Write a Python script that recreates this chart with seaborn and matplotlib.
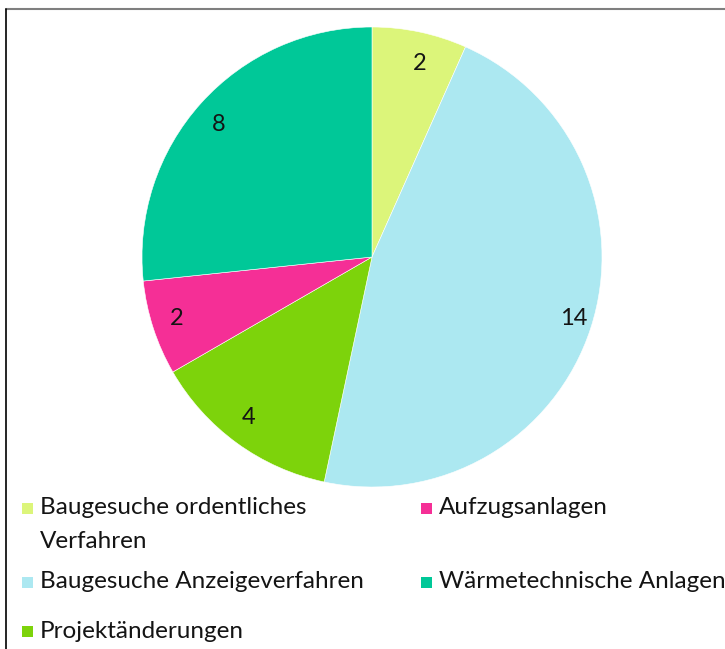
import matplotlib
matplotlib.use("Agg")
import matplotlib.pyplot as plt
from matplotlib.patches import Rectangle
from matplotlib.lines import Line2D
import seaborn as sns

# data, clockwise from 12 o'clock
categories = ["Baugesuche ordentliches\nVerfahren", "Baugesuche Anzeigeverfahren",
              "Projektänderungen", "Aufzugsanlagen", "Wärmetechnische Anlagen"]
counts = [2, 14, 4, 2, 8]
colors = ["#dcf57a", "#ace8f1", "#7dd30b", "#f52f96", "#00c898"]

sns.set_style("white")
plt.rcParams["font.family"] = ["Lato", "DejaVu Sans"]

W, H = 725, 649
fig = plt.figure(figsize=(W / 100, H / 100), dpi=100)

# pie axes: centre (372, 257) px, radius 230 px
cx, cy, r = 372, 257, 230
ax = fig.add_axes([(cx - r) / W, 1 - (cy + r) / H, 2 * r / W, 2 * r / H])
ax.pie(counts, colors=colors, startangle=90, counterclock=False,
       labels=[str(c) for c in counts], labeldistance=0.86,
       wedgeprops=dict(edgecolor="white", linewidth=0.4),
       textprops=dict(fontsize=17, color="#141414"))
ax.set_xlim(-1, 1)
ax.set_ylim(-1, 1)
ax.set_aspect("auto")
ax.axis("off")

# legend drawn by hand so the rows line up like the original
legend_pos = [(22, 508), (22, 582), (22, 631), (421, 508), (421, 582)]
for (lx, ly), name, col in zip(legend_pos, categories, colors):
    fig.add_artist(Rectangle((lx / W, 1 - (ly + 6) / H), 11 / W, 11 / H,
                             transform=fig.transFigure, color=col, lw=0))
    for i, line in enumerate(name.split("\n")):
        fig.text((lx + 18) / W, 1 - (ly + i * 34) / H, line, fontsize=17.5,
                 color="#141414", va="center")

# frame lines (top grey, left black)
fig.add_artist(Line2D([6 / W, 1], [1 - 9 / H, 1 - 9 / H], color="#7f7f7f", lw=1.5))
fig.add_artist(Line2D([6 / W, 6 / W], [0, 1 - 9 / H], color="black", lw=1.2))

fig.savefig("out.png", dpi=100)
